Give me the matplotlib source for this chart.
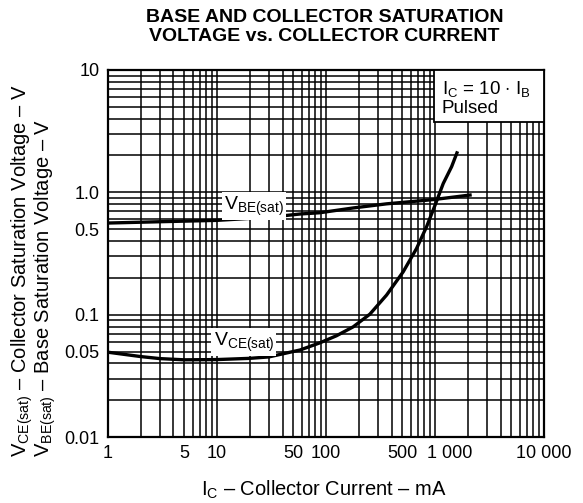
import numpy as np
import matplotlib
matplotlib.use("Agg")
import matplotlib.pyplot as plt
from matplotlib.patches import Rectangle
from matplotlib.transforms import ScaledTranslation

plt.rcParams['font.family'] = ['Liberation Sans', 'DejaVu Sans']
plt.rcParams['mathtext.fontset'] = 'custom'
plt.rcParams['mathtext.rm'] = 'Liberation Sans'

# Collector current (mA) and saturation voltages (V)
ic_vce = [1, 2, 3, 5, 10, 20, 30, 58, 88, 125, 178, 253, 360, 512, 679, 839,
          1000, 1192, 1423, 1592]
vce_sat = [0.0494, 0.0455, 0.0438, 0.0428, 0.0430, 0.0440, 0.0452, 0.0515, 0.0589,
           0.0673, 0.0796, 0.101, 0.1446, 0.2244, 0.348, 0.524, 0.78, 1.18, 1.62, 2.1]

ic_vbe = [1, 3, 10, 30, 58, 88, 178, 360, 730, 1000, 2100]
vbe_sat = [0.561, 0.575, 0.59, 0.625, 0.665, 0.681, 0.745, 0.805, 0.852, 0.875, 0.95]

x_ticks = [1, 5, 10, 50, 100, 500, 1000, 10000]
x_ticklabels = ["1", "5", "10", "50", "100", "500", "1 000", "10 000"]
y_ticks = [0.01, 0.05, 0.1, 0.5, 1.0, 10]
y_ticklabels = ["0.01", "0.05", "0.1", "0.5", "1.0", "10"]

fig = plt.figure(figsize=(5.83, 5.03), dpi=100)
ax = fig.add_axes([0.185, 0.131, 0.748, 0.730])
ax.set_xscale('log')
ax.set_yscale('log')
ax.set_xlim(1, 10000)
ax.set_ylim(0.01, 10)

minor_x = [k * 10**n for n in range(0, 4) for k in range(1, 10)]
minor_y = [k * 10.0**n for n in range(-2, 1) for k in range(1, 10)]
ax.set_xticks(x_ticks)
ax.set_xticklabels(x_ticklabels)
ax.set_xticks(minor_x, minor=True)
ax.set_xticklabels([], minor=True)
ax.set_yticks(y_ticks)
ax.set_yticklabels(y_ticklabels)
ax.set_yticks(minor_y, minor=True)
ax.set_yticklabels([], minor=True)
ax.tick_params(which='both', length=0, labelsize=13, pad=6)
ax.grid(which='both', color='black', lw=1.1)
for s in ax.spines.values():
    s.set_linewidth(1.6)

# "1 000" sits a little right of its grid line in the original
for lbl in ax.get_xticklabels():
    if lbl.get_text() == "1 000":
        lbl.set_transform(lbl.get_transform() + ScaledTranslation(0.15, 0, fig.dpi_scale_trans))

ax.plot(ic_vbe, vbe_sat, color='black', lw=2.4, zorder=3)
ax.plot(ic_vce, vce_sat, color='black', lw=2.4, zorder=3)

ax.text(22, 0.77, r"V$_{\mathregular{BE(sat)}}$", fontsize=14, ha='center', va='center',
        zorder=4, bbox=dict(facecolor='white', edgecolor='none', pad=1.5))
ax.text(17.7, 0.0597, r"V$_{\mathregular{CE(sat)}}$", fontsize=14, ha='center', va='center',
        zorder=4, bbox=dict(facecolor='white', edgecolor='none', pad=1.5))

ax.add_patch(Rectangle((0.748, 0.858), 0.252, 0.142, transform=ax.transAxes,
                       facecolor='white', edgecolor='black', lw=1.3, zorder=4))
ax.text(0.766, 0.945, r"I$_{\mathregular{C}}$ = 10 $\cdot$ I$_{\mathregular{B}}$", transform=ax.transAxes,
        fontsize=13.5, ha='left', va='center', zorder=5)
ax.text(0.766, 0.895, "Pulsed", transform=ax.transAxes,
        fontsize=13.5, ha='left', va='center', zorder=5)

fig.text(0.557, 1 - 18 / 503, "BASE AND COLLECTOR SATURATION", fontsize=14,
         fontweight='bold', ha='center', va='center')
fig.text(0.557, 1 - 37 / 503, "VOLTAGE vs. COLLECTOR CURRENT", fontsize=14,
         fontweight='bold', ha='center', va='center')

fig.text(27 / 583, 1 - 457 / 503, r"V$_{\mathregular{CE(sat)}}$ – Collector Saturation Voltage – V",
         fontsize=14.5, rotation=90, rotation_mode='anchor', ha='left', va='baseline')
fig.text(50 / 583, 1 - 457 / 503, r"V$_{\mathregular{BE(sat)}}$ – Base Saturation Voltage – V",
         fontsize=14.5, rotation=90, rotation_mode='anchor', ha='left', va='baseline')

fig.text(324 / 583, 1 - 490 / 503, r"I$_{\mathregular{C}}$ – Collector Current – mA",
         fontsize=14.5, ha='center', va='center')

fig.savefig("out.png", dpi=100)
